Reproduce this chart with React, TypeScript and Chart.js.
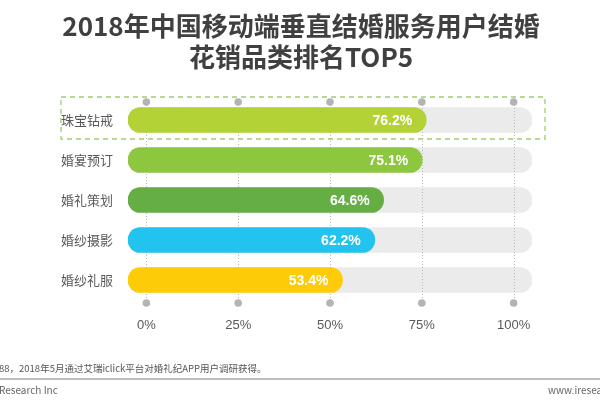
import React, { useEffect, useRef } from "react";
import { Chart, registerables } from "chart.js";

Chart.register(...registerables);

const categories = ["珠宝钻戒", "婚宴预订", "婚礼策划", "婚纱摄影", "婚纱礼服"];
const values = [76.2, 75.1, 64.6, 62.2, 53.4];
const barColors = ["#b3d236", "#8dc63f", "#64ae44", "#22c3ef", "#fecb08"];
const tickValues = [0, 25, 50, 75, 100];
const tickLabels = ["0%", "25%", "50%", "75%", "100%"];
const titleLines = ["2018年中国移动端垂直结婚服务用户结婚", "花销品类排名TOP5"];
const sourceNote = "88，2018年5月通过艾瑞iclick平台对婚礼纪APP用户调研获得。";
const footerLeft = "Research Inc";
const footerRight = "www.iresearch.com.cn";

const X_MIN = -5;
const X_MAX = 105;
const trackValues = categories.map(() => X_MAX);

const CJK = '"Noto Sans CJK SC", "Noto Sans", sans-serif';
const LATIN = '"Liberation Sans", Arial, sans-serif';

const decorPlugin = {
  id: "decor",
  afterDatasetDraw(chart: any, args: any) {
    if (args.index !== 1) return;
    const ctx = chart.ctx;
    const xs = chart.scales.x;
    const area = chart.chartArea;
    ctx.save();
    tickValues.forEach((v) => {
      const x = Math.round(xs.getPixelForValue(v)) + 0.5;
      ctx.strokeStyle = "#b8b8b8";
      ctx.lineWidth = 1;
      ctx.setLineDash([1, 2]);
      ctx.beginPath();
      ctx.moveTo(x, area.top + 2);
      ctx.lineTo(x, area.bottom + 3);
      ctx.stroke();
    });
    ctx.restore();
  },
  afterDatasetsDraw(chart: any) {
    const ctx = chart.ctx;
    const xs = chart.scales.x;
    const ys = chart.scales.y;
    ctx.save();
    ctx.font = `bold 14px ${LATIN}`;
    ctx.fillStyle = "#ffffff";
    ctx.textAlign = "right";
    ctx.textBaseline = "middle";
    values.forEach((v, i) => {
      ctx.fillText(v.toFixed(1) + "%", xs.getPixelForValue(v) - 14, ys.getPixelForValue(i) + 1);
    });
    ctx.restore();
  },
  afterDraw(chart: any) {
    const ctx = chart.ctx;
    const xs = chart.scales.x;
    const ys = chart.scales.y;
    const area = chart.chartArea;
    ctx.save();

    // grid dots
    ctx.fillStyle = "#b4b4b4";
    tickValues.forEach((v) => {
      const x = xs.getPixelForValue(v);
      [area.top + 2, area.bottom + 3].forEach((y) => {
        ctx.beginPath();
        ctx.arc(x, y, 3.8, 0, Math.PI * 2);
        ctx.fill();
      });
    });

    // dashed highlight around first row
    const y0 = ys.getPixelForValue(0);
    ctx.strokeStyle = "#9fcf6a";
    ctx.lineWidth = 1.3;
    ctx.setLineDash([5, 4]);
    ctx.strokeRect(61, y0 - 23, 484, 42);
    ctx.setLineDash([]);

    // category labels
    ctx.font = `13px ${CJK}`;
    ctx.fillStyle = "#595959";
    ctx.textAlign = "right";
    ctx.textBaseline = "middle";
    categories.forEach((c, i) => {
      ctx.fillText(c, 113, ys.getPixelForValue(i));
    });

    // tick labels
    ctx.font = `13px ${LATIN}`;
    ctx.fillStyle = "#595959";
    ctx.textAlign = "center";
    tickValues.forEach((v, i) => {
      ctx.fillText(tickLabels[i], xs.getPixelForValue(v), 325);
    });

    // title
    ctx.font = `bold 26px ${CJK}`;
    ctx.fillStyle = "#404040";
    ctx.textAlign = "center";
    titleLines.forEach((t, i) => {
      ctx.fillText(t, 301, 26 + i * 31);
    });

    // footer
    ctx.font = `9.5px ${CJK}`;
    ctx.fillStyle = "#555555";
    ctx.textAlign = "left";
    ctx.fillText(sourceNote, -1, 368);

    ctx.strokeStyle = "#a8a8a8";
    ctx.lineWidth = 1.5;
    ctx.beginPath();
    ctx.moveTo(0, 379);
    ctx.lineTo(600, 379);
    ctx.stroke();

    ctx.font = `10px ${CJK}`;
    ctx.fillStyle = "#666666";
    ctx.fillText(footerLeft, -1, 390);
    ctx.fillText(footerRight, 548, 390);

    ctx.restore();
  },
};

export default function App() {
  const canvasRef = useRef<HTMLCanvasElement | null>(null);

  useEffect(() => {
    if (!canvasRef.current) return;
    const chart = new Chart(canvasRef.current, {
      type: "bar",
      data: {
        labels: categories,
        datasets: [
          {
            label: "value",
            data: values,
            backgroundColor: barColors,
            base: X_MIN,
            borderRadius: 13,
            borderSkipped: false,
            barThickness: 25,
            grouped: false,
            order: 1,
          } as any,
          {
            label: "track",
            data: trackValues,
            backgroundColor: "#ebebeb",
            base: X_MIN,
            borderRadius: 13,
            borderSkipped: false,
            barThickness: 25,
            grouped: false,
            order: 2,
          } as any,
        ],
      },
      options: {
        indexAxis: "y",
        responsive: false,
        animation: false,
        devicePixelRatio: 1,
        layout: { padding: { left: 128, right: 68, top: 100, bottom: 100 } },
        plugins: {
          legend: { display: false },
          tooltip: { enabled: false },
          title: { display: false },
        },
        scales: {
          x: { type: "linear", min: X_MIN, max: X_MAX, display: false },
          y: { type: "category", display: false, offset: true },
        },
      },
      plugins: [decorPlugin],
    });
    return () => chart.destroy();
  }, []);

  return (
    <div style={{ position: "absolute", left: 0, top: 0, width: 600, height: 400, background: "#ffffff" }}>
      <canvas ref={canvasRef} width={600} height={400} />
    </div>
  );
}
